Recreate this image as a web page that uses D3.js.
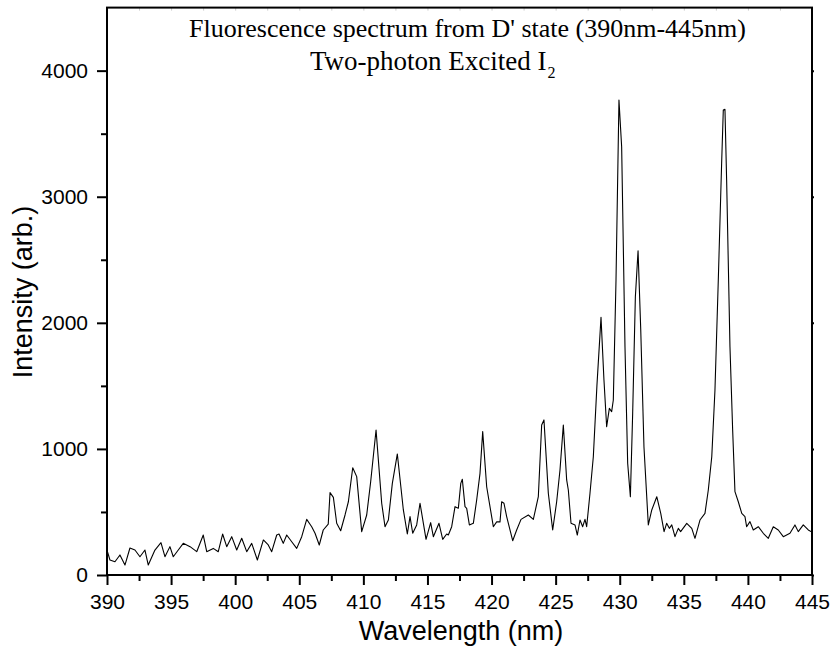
<!DOCTYPE html>
<html><head><meta charset="utf-8">
<script src="https://cdn.jsdelivr.net/npm/d3@7"></script>
<style>body{margin:0;background:#fff}svg{display:block}</style>
</head><body>
<svg id="chart" width="832" height="646"></svg>
<script>
const wavelength = [390.0,390.23,390.62,391.01,391.40,391.79,392.18,392.57,392.96,393.22,393.74,394.21,394.52,394.91,395.17,395.56,395.95,396.48,397.0,397.51,397.78,398.29,398.68,399.02,399.34,399.73,400.12,400.51,400.90,401.29,401.73,402.2,402.58,402.85,403.24,403.42,403.75,404.02,404.41,404.80,405.19,405.58,405.97,406.23,406.56,406.87,407.26,407.40,407.66,407.92,408.23,408.57,408.83,409.17,409.48,409.87,410.26,410.57,410.99,411.43,411.69,411.95,412.26,412.65,413.12,413.43,413.64,413.85,414.16,414.42,414.89,415.25,415.46,415.90,416.19,416.50,416.63,416.89,417.15,417.41,417.60,417.72,417.93,418.06,418.27,418.58,418.84,419.10,419.31,419.62,420.14,420.40,420.66,420.79,420.97,421.18,421.65,421.96,422.30,422.87,423.26,423.65,423.91,424.09,424.43,424.77,425.08,425.34,425.60,425.86,425.99,426.20,426.51,426.69,426.90,427.11,427.29,427.42,427.68,427.94,428.22,428.54,428.77,428.98,429.19,429.37,429.50,429.71,429.94,430.15,430.41,430.62,430.83,431.01,431.22,431.43,431.64,431.89,432.23,432.50,432.89,433.20,433.46,433.66,433.87,434.06,434.31,434.57,434.75,435.23,435.62,435.87,436.26,436.65,436.91,437.18,437.43,437.69,437.95,438.08,438.21,438.34,438.60,438.81,438.99,439.25,439.52,439.77,439.90,440.16,440.42,440.81,441.20,441.59,441.98,442.37,442.76,443.28,443.67,443.93,444.32,444.71,445.0];
const intensity = [198,119,105,159,79,214,198,145,198,79,198,256,145,225,145,198,251,225,185,317,185,211,185,325,225,304,198,291,185,251,119,278,238,185,317,325,251,317,264,211,304,441,383,331,238,357,404,653,616,410,351,476,581,851,780,344,476,740,1150,569,383,436,727,960,516,325,463,331,397,569,283,415,304,410,283,325,317,383,542,529,727,759,542,529,397,410,595,806,1137,700,383,421,421,581,569,463,272,357,441,476,441,621,1190,1230,648,357,581,833,1190,754,674,410,397,317,436,383,441,383,648,938,1500,2043,1546,1176,1322,1296,1388,2339,3767,3397,1810,886,621,1282,2207,2572,1943,1017,397,516,621,489,344,410,370,397,304,370,344,410,370,291,436,489,674,938,1467,2339,3265,3688,3693,3133,1810,1150,661,581,489,463,383,423,357,383,331,291,383,357,304,331,397,344,397,357,340];
const xMajorTicks = [390,395,400,405,410,415,420,425,430,435,440,445];
const xMinorTicks = [392.5,397.5,402.5,407.5,412.5,417.5,422.5,427.5,432.5,437.5,442.5];
const yMajorTicks = [0,1000,2000,3000,4000];
const yMinorTicks = [500,1500,2500,3500];
const titleLine1 = "Fluorescence spectrum from D' state (390nm-445nm)";
const titleLine2 = "Two-photon Excited I";
const titleSub = "2";
const xLabel = "Wavelength (nm)";
const yLabel = "Intensity (arb.)";

const svg = d3.select("#chart");
const L = 107, R = 812, T = 7.6, B = 575;
const x = d3.scaleLinear().domain([390, 445]).range([L, R]);
const y = d3.scaleLinear().domain([0, 4500]).range([B, T]);
const sans = "Liberation Sans, Arial, sans-serif";
const serif = "Liberation Serif, Times New Roman, serif";

// data line
const data = wavelength.map((w, i) => [w, intensity[i]]);
svg.append("path").datum(data)
  .attr("fill", "none").attr("stroke", "#000").attr("stroke-width", 1.1)
  .attr("stroke-linejoin", "round")
  .attr("d", d3.line().x(d => x(d[0])).y(d => y(d[1])));

// axes
function styleAxis(g, fs) {
  g.select(".domain").remove();
  g.selectAll(".tick line").attr("stroke", "#000").attr("stroke-width", 2);
  g.selectAll(".tick text").attr("fill", "#000").style("font-family", sans).style("font-size", fs + "px");
}
const gx = svg.append("g").attr("transform", `translate(0,${B})`)
  .call(d3.axisBottom(x).tickValues(xMajorTicks).tickSize(10).tickPadding(9).tickFormat(d3.format("d")));
styleAxis(gx, 21);
const gxm = svg.append("g").attr("transform", `translate(0,${B})`)
  .call(d3.axisBottom(x).tickValues(xMinorTicks).tickSize(6).tickFormat(""));
styleAxis(gxm, 21);
const gy = svg.append("g").attr("transform", `translate(${L},0)`)
  .call(d3.axisLeft(y).tickValues(yMajorTicks).tickSize(10).tickPadding(9).tickFormat(d3.format("d")));
styleAxis(gy, 21);
const gym = svg.append("g").attr("transform", `translate(${L},0)`)
  .call(d3.axisLeft(y).tickValues(yMinorTicks).tickSize(6).tickFormat(""));
styleAxis(gym, 21);

// faint mirror ticks on top and right
const gt = svg.append("g").attr("transform", `translate(0,${T})`)
  .call(d3.axisBottom(x).tickValues(xMajorTicks.concat(xMinorTicks)).tickSize(3).tickFormat(""));
gt.select(".domain").remove();
gt.selectAll(".tick line").attr("stroke", "#ccc").attr("stroke-width", 1);
const gr = svg.append("g").attr("transform", `translate(${R},0)`)
  .call(d3.axisRight(y).tickValues(yMajorTicks).tickSize(2).tickFormat(""));
gr.select(".domain").remove();
gr.selectAll(".tick line").attr("stroke", "#000").attr("stroke-width", 2);

// frame
svg.append("rect").attr("x", L).attr("y", T).attr("width", R - L).attr("height", B - T)
  .attr("fill", "none").attr("stroke", "#000").attr("stroke-width", 2);

// titles
svg.append("text").attr("x", 467.5).attr("y", 37).attr("text-anchor", "middle")
  .style("font-family", serif).style("font-size", "26px").text(titleLine1);
const t2 = svg.append("text").attr("x", 310).attr("y", 70)
  .style("font-family", serif).style("font-size", "27px");
t2.append("tspan").text(titleLine2);
t2.append("tspan").attr("dy", 8).attr("dx", 1).style("font-size", "16px").text(titleSub);

// axis labels
svg.append("text").attr("x", 461).attr("y", 640).attr("text-anchor", "middle")
  .style("font-family", sans).style("font-size", "27px").text(xLabel);
svg.append("text").attr("transform", `translate(32,292) rotate(-90)`).attr("text-anchor", "middle")
  .style("font-family", sans).style("font-size", "27px").text(yLabel);
</script>
</body></html>
